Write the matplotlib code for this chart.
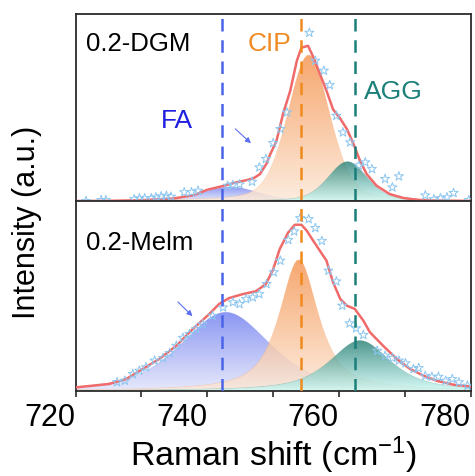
import numpy as np
import matplotlib
matplotlib.use("Agg")
import matplotlib.pyplot as plt
from matplotlib.colors import to_rgb

plt.rcParams['font.family'] = ['Liberation Sans', 'DejaVu Sans']
plt.rcParams['mathtext.fontset'] = 'custom'
plt.rcParams['mathtext.rm'] = 'Liberation Sans'
plt.rcParams['mathtext.default'] = 'regular'

# band positions (cm-1)
band_names = ["FA", "CIP", "AGG"]
band_pos = [742.2, 754.3, 762.4]
band_colors = ["#4a64e8", "#f08a1c", "#1a7f78"]

# fitted components: FA, CIP, AGG  (center, height, fwhm, lorentz fraction)
dgm_center = [743.5, 755.4, 761.3]
dgm_height = [0.075, 0.78, 0.21]
dgm_fwhm = [10.0, 7.5, 7.0]
dgm_eta = [0.3, 0.3, 0.3]

melm_center = [742.8, 753.9, 763.2]
melm_height = [0.414, 0.69, 0.265]
melm_fwhm = [16.0, 7.0, 11.0]
melm_eta = [0.5, 0.8, 0.7]

# envelope (red line)
dgm_fit_x = [720.0, 725.0, 730.0, 735.0, 738.0, 740.0, 742.0, 744.0, 746.0, 747.0,
             748.0, 749.0, 749.5, 750.5, 751.5, 752.6, 753.6, 754.3, 755.3, 756.1,
             757.1, 758.1, 759.1, 760.2, 761.2, 762.2, 763.2, 764.2, 765.7, 767.7,
             769.8, 772.3, 774.8, 777.0, 780.0]
dgm_fit_y = [0.0, 0.001, 0.004, 0.014, 0.032, 0.06, 0.077, 0.096, 0.112, 0.121,
             0.144, 0.2, 0.245, 0.32, 0.465, 0.59, 0.75, 0.82, 0.83, 0.77,
             0.68, 0.59, 0.49, 0.44, 0.385, 0.305, 0.215, 0.144, 0.082, 0.037,
             0.016, 0.005, 0.002, 0.001, 0.0]

melm_fit_x = [720.1, 725.1, 727.7, 730.2, 732.7, 735.3, 737.8, 740.3, 741.8, 743.3,
              745.4, 747.4, 748.9, 750.0, 751.0, 752.3, 753.3, 754.3, 755.1, 756.1,
              757.1, 758.1, 759.1, 760.2, 761.2, 762.4, 763.7, 764.7, 766.7, 768.8,
              770.8, 772.8, 774.8, 777.4, 780.0]
melm_fit_y = [0.019, 0.037, 0.063, 0.116, 0.168, 0.238, 0.326, 0.405, 0.458, 0.489,
              0.51, 0.525, 0.563, 0.64, 0.747, 0.835, 0.875, 0.875, 0.844, 0.79,
              0.738, 0.686, 0.572, 0.484, 0.449, 0.432, 0.37, 0.309, 0.238, 0.168,
              0.116, 0.081, 0.054, 0.033, 0.023]

# measured spectra
dgm_x = [721.6, 723.9, 724.6, 728.9, 729.7, 730.5, 731.5, 732.2, 733.0, 733.8, 734.5,
         736.5, 737.6, 738.6, 743.1, 743.9, 744.9, 746.8, 747.9, 748.9, 750.0, 751.1,
         752.1, 755.5, 756.4, 757.7, 758.6, 759.6, 760.6, 761.7, 763.0, 764.0, 765.0,
         767.0, 768.1, 769.1, 773.1, 774.4, 775.4, 776.4, 777.4, 779.7]
dgm_y = [0.0, 0.005, 0.005, 0.01, 0.015, 0.015, 0.015, 0.02, 0.025, 0.028, 0.023,
         0.047, 0.047, 0.055, 0.082, 0.086, 0.089, 0.103, 0.18, 0.225, 0.31, 0.385,
         0.474, 0.90, 0.75, 0.697, 0.62, 0.456, 0.367, 0.314, 0.19, 0.207, 0.171,
         0.118, 0.073, 0.132, 0.03, 0.01, 0.015, 0.02, 0.043, 0.005]

melm_x = [726.3, 727.5, 728.7, 729.7, 730.7, 732.0, 733.3, 734.3, 735.3, 736.3, 737.3,
          738.3, 739.3, 740.8, 742.4, 743.9, 744.9, 745.9, 746.9, 747.9, 749.0, 750.1,
          751.1, 752.3, 753.2, 754.1, 755.4, 756.4, 757.4, 758.4, 759.6, 760.5, 761.6,
          762.6, 763.7, 765.8, 767.0, 768.1, 769.1, 770.1, 771.3, 772.1, 773.1, 774.1,
          775.1, 776.2, 777.2, 778.2, 779.5]
melm_y = [0.047, 0.054, 0.089, 0.107, 0.125, 0.16, 0.174, 0.2, 0.238, 0.28, 0.30,
          0.326, 0.352, 0.396, 0.44, 0.467, 0.458, 0.484, 0.493, 0.51, 0.563, 0.625,
          0.686, 0.795, 0.84, 0.91, 0.905, 0.858, 0.79, 0.633, 0.577, 0.449, 0.356,
          0.33, 0.295, 0.212, 0.186, 0.174, 0.16, 0.146, 0.116, 0.121, 0.08, 0.075,
          0.075, 0.054, 0.063, 0.046, 0.028]

fill_top = ["#6e7df0", "#f5914b", "#237d73"]
fill_bot = ["#e1e4fa", "#fce8d7", "#cdfaf5"]


def pvoigt(x, c, h, w, eta):
    g = np.exp(-4 * np.log(2) * ((x - c) / w) ** 2)
    l = 1 / (1 + (2 * (x - c) / w) ** 2)
    return h * (eta * l + (1 - eta) * g)


def gradient_fill(ax, x, y, top, bot, z):
    poly, = ax.fill(np.r_[x[0], x, x[-1]], np.r_[0, y, 0], facecolor='none',
                    edgecolor=top, lw=0.5, alpha=0.4, zorder=z)
    t = np.linspace(0, 1, 256)[:, None]
    rgb = np.array(to_rgb(bot)) + (np.array(to_rgb(top)) - np.array(to_rgb(bot))) * t
    img = ax.imshow(rgb[:, None, :], extent=[x[0], x[-1], 0, y.max()], origin='lower',
                    aspect='auto', alpha=0.8, zorder=z, interpolation='bilinear')
    img.set_clip_path(poly)


fig = plt.figure(figsize=(4.75, 4.77), dpi=100)
ax1 = fig.add_axes([0.159, 0.5765, 0.832, 0.392])
ax2 = fig.add_axes([0.159, 0.1782, 0.832, 0.3983])

xs = np.linspace(720, 780, 600)
panels = [
    (ax1, dgm_center, dgm_height, dgm_fwhm, dgm_eta, dgm_fit_x, dgm_fit_y, dgm_x, dgm_y),
    (ax2, melm_center, melm_height, melm_fwhm, melm_eta, melm_fit_x, melm_fit_y, melm_x, melm_y),
]
for ax, cen, hei, fw, eta, fx, fy, px, py in panels:
    for i in range(3):
        comp = pvoigt(xs, cen[i], hei[i], fw[i], eta[i])
        gradient_fill(ax, xs, comp, fill_top[i], fill_bot[i], 1 + i * 0.1)
    ax.plot(fx, fy, color='#f06a6a', lw=1.8, zorder=3, solid_joinstyle='round')
    ax.scatter(px, py, marker='*', s=48, facecolors='none', edgecolors='#8cc6f0',
               linewidths=0.7, zorder=4)
    for pos, col in zip(band_pos, band_colors):
        ax.axvline(pos, color=col, lw=1.8, ls=(0, (5, 3.5)), zorder=5)
    ax.set_xlim(720, 780)
    ax.set_ylim(0, 1)
    ax.set_yticks([])
    for s in ax.spines.values():
        s.set_color('#2b2b2b')
        s.set_linewidth(1.3)

ax1.set_xticks([])
ax2.set_xticks([720, 740, 760, 780])
ax2.set_xticks([730, 750, 770], minor=True)
ax2.tick_params(axis='x', which='both', direction='out', length=4, width=1.2,
                labelsize=22, pad=4, color='#2b2b2b')
for lab in ax2.get_xticklabels():
    lab.set_horizontalalignment('right')

ax1.text(0.027, 0.845, "0.2-DGM", transform=ax1.transAxes, fontsize=18.5,
         va='center', ha='left')
ax1.text(0.492, 0.845, "CIP", transform=ax1.transAxes, fontsize=19,
         va='center', ha='center', color='#f08a24')
ax1.text(0.805, 0.586, "AGG", transform=ax1.transAxes, fontsize=19,
         va='center', ha='center', color='#1a7f78')
ax1.text(0.256, 0.433, "FA", transform=ax1.transAxes, fontsize=19,
         va='center', ha='center', color='#1f1fe0')
ax2.text(0.027, 0.784, "0.2-Melm", transform=ax2.transAxes, fontsize=18.5,
         va='center', ha='left')

arrow = dict(arrowstyle='-|>', color='#5a6ef0', lw=0.8, mutation_scale=8)
ax1.annotate("", xy=(0.449, 0.299), xytext=(0.399, 0.396),
             xycoords='axes fraction', arrowprops=arrow)
ax2.annotate("", xy=(0.301, 0.384), xytext=(0.254, 0.479),
             xycoords='axes fraction', arrowprops=arrow)

ax2.set_xlabel("Raman shift (cm$^{-1}$)", fontsize=24.5, labelpad=1)
fig.text(0.057, 0.534, "Intensity (a.u.)", rotation=90, fontsize=22,
         va='center', ha='center')

fig.savefig("out.png", dpi=100)
